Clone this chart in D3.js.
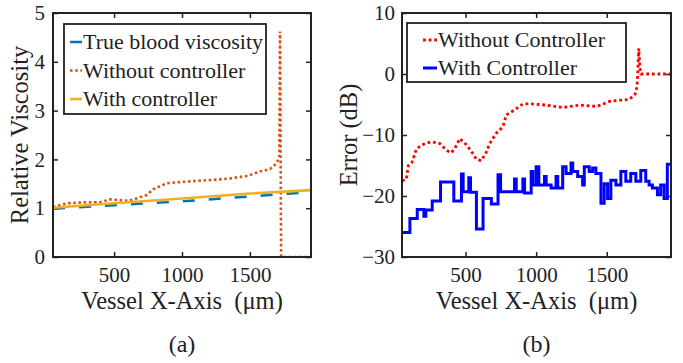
<!DOCTYPE html>
<html>
<head>
<meta charset="utf-8">
<script src="https://cdn.jsdelivr.net/npm/d3@7"></script>
<style>
  body { margin: 0; background: #fff; }
  svg text { font-family: "Liberation Serif", "Times New Roman", serif; fill: #222; }
</style>
</head>
<body>
<div id="chart"></div>
<script>
// 683 x 363 window
let width = 683;
let height = 363;
let serif = '"Liberation Serif", "Times New Roman", serif';

// shared x ticks (um)
let xTicks = [500, 1000, 1500];

// (a) relative viscosity
let viscTicks = [0, 1, 2, 3, 4, 5];
let trueViscX = [50, 500, 1000, 1500, 1950];
let trueViscY = [0.99, 1.06, 1.14, 1.24, 1.33];
let withCtrlX = [50, 500, 1000, 1500, 1950];
let withCtrlY = [1.01, 1.1, 1.2, 1.3, 1.37];
let withoutCtrlX = [50, 151, 273, 396, 470, 519, 605, 666, 740, 789, 838, 887, 961, 1059, 1108, 1230, 1353, 1476, 1574, 1648, 1697, 1717, 1722, 1730, 1950];
let withoutCtrlY = [1.02, 1.1, 1.12, 1.12, 1.18, 1.17, 1.15, 1.2, 1.27, 1.39, 1.45, 1.51, 1.53, 1.55, 1.56, 1.58, 1.61, 1.66, 1.75, 1.8, 1.92, 2.06, 4.62, 0, 0];

// (b) error in dB
let errTicks = [-30, -20, -10, 0, 10];
let errWithoutX = [50, 80, 95, 120, 154, 212, 259, 318, 365, 400, 424, 459, 506, 542, 577, 612, 647, 671, 718, 742, 765, 789, 847, 906, 965, 1024, 1071, 1188, 1306, 1423, 1470, 1517, 1588, 1659, 1701, 1715, 1720, 1727, 1735, 1742, 1955];
let errWithoutY = [-17.5, -17.3, -15, -14.5, -12.2, -11.4, -11.1, -11.4, -12.5, -12.9, -12.2, -10.6, -11.6, -12.7, -14.0, -14.2, -12.8, -11.4, -9.7, -9.2, -8.6, -6.7, -5.9, -4.9, -4.9, -5.0, -5.1, -5.5, -5.1, -5.3, -5.0, -4.5, -4.3, -4.2, -3.3, -2.0, 0.5, 4.2, 1.0, 0, 0];
let errWithX = [50, 106, 158, 205, 219, 264, 323, 417, 471, 483, 523, 535, 577, 624, 683, 730, 748, 847, 859, 906, 918, 965, 977, 1000, 1019, 1059, 1071, 1106, 1141, 1153, 1188, 1212, 1247, 1259, 1294, 1329, 1341, 1376, 1400, 1423, 1459, 1482, 1506, 1529, 1565, 1600, 1635, 1670, 1706, 1741, 1776, 1800, 1823, 1859, 1882, 1906, 1929, 1955];
let errWithY = [-26, -23.7, -22.2, -23.3, -22.3, -20.8, -17.7, -20.8, -16.4, -19.3, -17.0, -19.4, -25.4, -20.4, -21.3, -16.5, -19.3, -17.2, -19.3, -17.2, -19.5, -16.0, -18.2, -15.2, -18.2, -16.8, -18.2, -18.7, -16.8, -18.7, -15.2, -16.3, -14.6, -16.0, -16.8, -18.2, -15.2, -16.0, -15.4, -16.3, -21.2, -18.0, -20.4, -17.4, -18.2, -16.0, -17.6, -16.3, -17.6, -15.8, -17.6, -18.2, -18.7, -19.8, -18.2, -20.4, -14.8, -14.8];

let zip = (xs, ys) => xs.map((x, i) => [x, ys[i]]);

let svg = d3.select('#chart').append('svg')
    .attr('width', width).attr('height', height)
    .attr('font-family', serif);

function panel(box, xDomain, yDomain, yTicks, props) {
    let x = d3.scaleLinear().domain(xDomain).range([box.left, box.right]);
    let y = d3.scaleLinear().domain(yDomain).range([box.bottom, box.top]);
    let g = svg.append('g');
    let fmt = d3.format('d');

    let clipId = 'clip-' + props.tag.replace(/\W/g, '');
    svg.append('clipPath').attr('id', clipId)
        .append('rect')
        .attr('x', box.left).attr('y', box.top - 2)
        .attr('width', box.right - box.left).attr('height', box.bottom - box.top + 2);

    // axes, ticks pointing inward on all four sides
    let styleAxis = (a) => {
        a.attr('font-family', serif);
        a.select('.domain').remove();
        a.selectAll('.tick line').attr('stroke', '#222').attr('stroke-width', 1.5);
        a.selectAll('.tick text').style('font-size', '21px').style('font-family', serif).attr('fill', '#222');
    };
    g.append('g').attr('transform', `translate(0,${box.bottom})`)
        .call(d3.axisBottom(x).tickValues(xTicks).tickFormat(fmt).tickSizeInner(-5).tickSizeOuter(0).tickPadding(10))
        .call(styleAxis);
    g.append('g').attr('transform', `translate(0,${box.top})`)
        .call(d3.axisTop(x).tickValues(xTicks).tickSizeInner(-5).tickSizeOuter(0).tickFormat(''))
        .call(styleAxis);
    g.append('g').attr('transform', `translate(${box.left},0)`)
        .call(d3.axisLeft(y).tickValues(yTicks).tickFormat(fmt).tickSizeInner(-5).tickSizeOuter(0).tickPadding(props.yPad))
        .call(styleAxis);
    g.append('g').attr('transform', `translate(${box.right},0)`)
        .call(d3.axisRight(y).tickValues(yTicks).tickSizeInner(-5).tickSizeOuter(0).tickFormat(''))
        .call(styleAxis);

    let gLines = g.append('g').attr('clip-path', `url(#${clipId})`);
    for (let s of props.series) {
        let line = d3.line()
            .x(d => x(d[0])).y(d => y(d[1]))
            .curve(s.step ? d3.curveStepAfter : d3.curveLinear);
        gLines.append('path')
            .datum(s.data)
            .attr('d', line)
            .attr('fill', 'none')
            .attr('stroke', s.color)
            .attr('stroke-width', s.width)
            .attr('stroke-dasharray', s.dash || null)
            .attr('stroke-linejoin', 'miter');
    }

    g.append('rect')
        .attr('x', box.left).attr('y', box.top)
        .attr('width', box.right - box.left).attr('height', box.bottom - box.top)
        .attr('fill', 'none').attr('stroke', '#222').attr('stroke-width', 2);

    // legend
    let lg = props.legend;
    g.append('rect')
        .attr('x', lg.x).attr('y', lg.y).attr('width', lg.w).attr('height', lg.h)
        .attr('fill', '#fff').attr('stroke', '#222').attr('stroke-width', 1.8);
    lg.items.forEach((item, i) => {
        let s = props.series[item.series];
        let cy = lg.y + lg.first + i * lg.step;
        g.append('line')
            .attr('x1', lg.x + lg.lineX0).attr('x2', lg.x + lg.lineX1)
            .attr('y1', cy).attr('y2', cy)
            .attr('stroke', s.color).attr('stroke-width', s.width)
            .attr('stroke-dasharray', s.legendDash || null);
        g.append('text')
            .attr('x', lg.x + lg.textX).attr('y', cy).attr('dy', '0.34em')
            .style('font-size', '22px')
            .text(item.label);
    });

    // labels
    let cx = (box.left + box.right) / 2;
    g.append('text')
        .attr('x', cx).attr('y', 309)
        .attr('text-anchor', 'middle').style('font-size', '24.5px')
        .text('Vessel X-Axis\u00a0\u00a0(\u03bcm)');
    g.append('text')
        .attr('transform', `translate(${props.yLabelX},${(box.top + box.bottom) / 2}) rotate(-90)`)
        .attr('text-anchor', 'middle').style('font-size', '24.5px')
        .text(props.yLabel);
    g.append('text')
        .attr('x', cx).attr('y', 352)
        .attr('text-anchor', 'middle').style('font-size', '24px')
        .text(props.tag);
}

panel({left: 53, right: 311, top: 13, bottom: 257}, [50, 1950], [0, 5], viscTicks, {
    tag: '(a)',
    yPad: 8,
    yLabel: 'Relative Viscosity',
    yLabelX: 28,
    series: [
        {data: zip(trueViscX, trueViscY), color: '#0072BD', width: 2.5, dash: '12,14', legendDash: null},
        {data: zip(withoutCtrlX, withoutCtrlY), color: '#D95319', width: 2.6, dash: '2.6,2.6', legendDash: '2.6,2.6'},
        {data: zip(withCtrlX, withCtrlY), color: '#EDB120', width: 2.6},
    ],
    legend: {
        x: 64, y: 24, w: 202, h: 90, first: 18, step: 28.5, lineX0: 6, lineX1: 18, textX: 19,
        items: [
            {series: 0, label: 'True blood viscosity'},
            {series: 1, label: 'Without controller'},
            {series: 2, label: 'With controller'},
        ],
    },
});

panel({left: 402, right: 671, top: 13, bottom: 257}, [50, 1955], [-30, 10], errTicks, {
    tag: '(b)',
    yPad: 7,
    yLabel: 'Error (dB)',
    yLabelX: 357,
    series: [
        {data: zip(errWithoutX, errWithoutY), color: '#FF0000', width: 2.8, dash: '2.8,2.8', legendDash: '2.8,2.8'},
        {data: zip(errWithX, errWithY), color: '#0000FF', width: 3, step: true},
    ],
    legend: {
        x: 407, y: 23, w: 219, h: 59, first: 17, step: 28, lineX0: 16, lineX1: 30, textX: 31,
        items: [
            {series: 0, label: 'Without Controller'},
            {series: 1, label: 'With Controller'},
        ],
    },
});
</script>
</body>
</html>
